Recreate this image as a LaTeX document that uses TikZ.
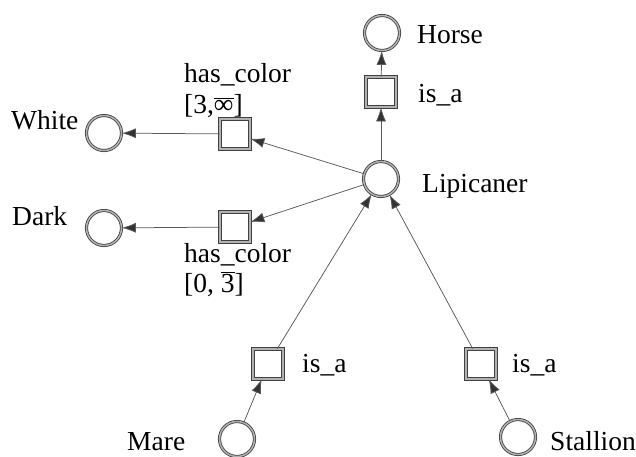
\documentclass[tikz,border=0pt]{standalone}
\usepackage{fontspec}
\setmainfont{Liberation Serif}
\newfontfamily\lserif{Liberation Serif}
\usetikzlibrary{arrows.meta}
\begin{document}
\begin{tikzpicture}[x=1pt,y=-1pt,
  conc/.style={circle, draw=black!75, double=black!30, double distance=1.5pt, line width=0.8pt, minimum size=35pt, inner sep=0pt},
  rel/.style={rectangle, draw=black!75, double=black!30, double distance=1.5pt, line width=0.8pt, minimum size=30pt, inner sep=0pt},
  lbl/.style={font=\lserif\fontsize{27.5}{31}\selectfont, inner sep=0pt, anchor=base west},
  arr/.style={draw=black!65, line width=0.75pt, -{Latex[length=14pt,width=10pt,fill=black!80]}}
]
\useasboundingbox (0,0) rectangle (636,456);
% concepts
\node[conc] (horse) at (382,33) {};
\node[conc] (lip) at (381,179) {};
\node[conc] (white) at (104,133) {};
\node[conc] (dark) at (104,228) {};
\node[conc] (mare) at (237,439) {};
\node[conc] (stal) at (518,437) {};
% relations
\node[rel] (risa) at (381,92) {};
\node[rel] (rwhite) at (235,134) {};
\node[rel] (rdark) at (235,227) {};
\node[rel] (rmare) at (268,364) {};
\node[rel] (rstal) at (481,364) {};
% labels
\node[lbl] (tHorse) at (417,43) {Horse};
\node[lbl] (tIsa1) at (418,102) {is\_a};
\node[lbl] (tLip) at (422,192) {Lipicaner};
\node[lbl] (tWhite) at (11,129) {White};
\node[lbl] (tDark) at (12,225) {Dark};
\node[lbl] (tMare) at (127,450) {Mare};
\node[lbl] (tStal) at (550,450) {Stallion};
\node[lbl] (tIsa2) at (302,372) {is\_a};
\node[lbl] (tIsa3) at (512,372) {is\_a};
\node[lbl] (tHc1) at (184,82) {has\_color};
\node[lbl] (tRng1) at (184,113) {[3,$\overline{\hbox{∞}}$]};
\node[lbl] (tHc2) at (184,262) {has\_color};
\node[lbl] (tRng2) at (184,292) {[0, $\overline{\hbox{3}}$]};
% connectors
\draw[arr] (lip) -- (risa);
\draw[arr] (risa) -- (horse);
\draw[arr] (lip) -- (rwhite);
\draw[arr] (rwhite) -- (white);
\draw[arr] (lip) -- (rdark);
\draw[arr] (rdark) -- (dark);
\draw[arr] (mare) -- (rmare);
\draw[arr] (rmare) -- (lip);
\draw[arr] (stal) -- (rstal);
\draw[arr] (rstal) -- (lip);
\end{tikzpicture}
\end{document}
